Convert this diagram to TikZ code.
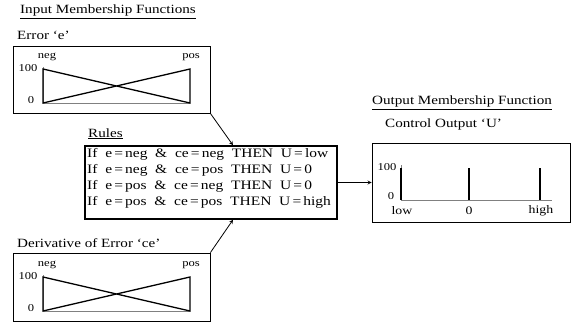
\documentclass[tikz,border=0pt]{standalone}
\usepackage{fontspec}
\setmainfont{Liberation Serif}[FakeStretch=1.2]
\usetikzlibrary{positioning,arrows}

\begin{document}
\begin{tikzpicture}[
        x=1pt, y=-1pt,
        mfbox/.style={rectangle, draw, thick, minimum width=197pt, minimum height=67pt, inner sep=0pt},
        heading/.style={font=\fontsize{12.6}{14}\selectfont, anchor=base west, inner sep=0pt},
        lbl/.style={font=\fontsize{10.5}{12}\selectfont, inner sep=0pt},
        mfline/.style={line width=1.3pt},
        axisline/.style={gray, thin},
        arrow/.style={->, >=stealth, thick}
    ]
        \useasboundingbox (0,0) rectangle (572,326);
        % boxes
        \node[mfbox] (errbox) at (111.5,79.5) {};
        \node[mfbox, minimum height=68pt] (derbox) at (111.5,287) {};
        \node[mfbox, line width=1.5pt, minimum width=252pt, minimum height=73pt] (rules) at (211,182.5) {};
        \node[mfbox, minimum width=198pt, minimum height=79pt] (outbox) at (471,182.5) {};
        % headings
        \node[heading] (intitle) at (20,14) {\underline{Input Membership Functions}};
        \node[heading] (errtitle) at (17,40) {Error `e'};
        \node[heading] (rulestitle) at (88,137) {\underline{Rules}};
        \node[heading] (dertitle) at (17,247) {Derivative of Error `ce'};
        \node[heading] (outtitle) at (372,105) {\underline{Output Membership Function}};
        \node[heading] (ctltitle) at (385,127) {Control Output `U'};
        % rule table
        \node[anchor=north west, inner sep=0pt, align=left, font=\fontsize{12.9}{16.2}\selectfont] (ruletxt) at (87,148)
            {If\ \ e\,=\,neg\ \ \&\ \ ce\,=\,neg\ \ THEN\ \ U\,=\,low\\
             If\ \ e\,=\,neg\ \ \&\ \ ce\,=\,pos\ \ THEN\ \ U\,=\,0\\
             If\ \ e\,=\,pos\ \ \&\ \ ce\,=\,neg\ \ THEN\ \ U\,=\,0\\
             If\ \ e\,=\,pos\ \ \&\ \ ce\,=\,pos\ \ THEN\ \ U\,=\,high};
        % input membership functions
        \foreach \dy/\nm in {0/err, 208/der} {
            \draw[axisline] (43,67+\dy) -- (43,103+\dy) -- (190,103+\dy);
            \draw[mfline] (43,69+\dy) -- (190,103+\dy) -- (190,69+\dy) -- (43,103+\dy) -- cycle;
            \node[lbl] (neg-\nm) at (47,57+\dy) {neg};
            \node[lbl] (pos-\nm) at (191,57+\dy) {pos};
            \node[lbl] (hi-\nm) at (28,68+\dy) {100};
            \node[lbl] (lo-\nm) at (31,100+\dy) {0};
        }
        % output membership function
        \draw[axisline] (401,165) -- (401,200) -- (552,200);
        \foreach \x in {401,469,540}
            \draw[mfline] (\x,168) -- (\x,200);
        \node[lbl] (hi-out) at (387,167) {100};
        \node[lbl] (lo-out) at (391,196) {0};
        \node[lbl, font=\fontsize{11.5}{13}\selectfont] (low) at (402,211) {low};
        \node[lbl, font=\fontsize{11.5}{13}\selectfont] (zero) at (469,211) {0};
        \node[lbl, font=\fontsize{11.5}{13}\selectfont] (high) at (541,211) {high};
        % connectors
        \draw[arrow] (errbox.south east) -- ([xshift=22pt]rules.north);
        \draw[arrow] (derbox.north east) -- ([xshift=22pt]rules.south);
        \draw[arrow] (rules) -- (outbox);
    \end{tikzpicture}
\end{document}
